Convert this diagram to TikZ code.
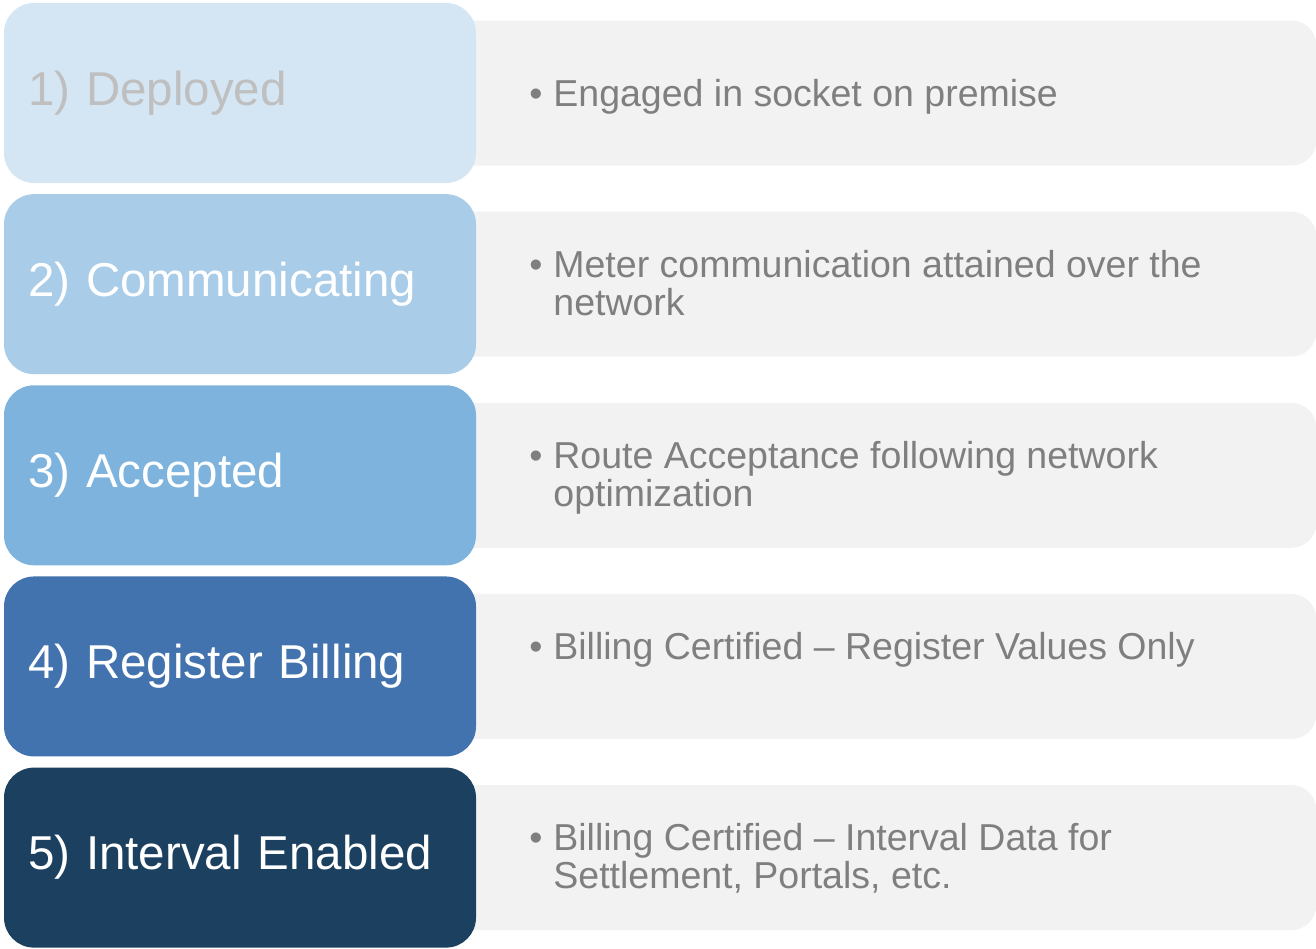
\documentclass[tikz,border=0pt]{standalone}
\usepackage{fontspec}
\setmainfont{Liberation Sans}
\usetikzlibrary{positioning, backgrounds}

\definecolor{stageA}{HTML}{D4E6F3}
\definecolor{stageB}{HTML}{A9CCE8}
\definecolor{stageC}{HTML}{7DB3DD}
\definecolor{stageD}{HTML}{4373AE}
\definecolor{stageE}{HTML}{1C405F}
\definecolor{stageAText}{HTML}{BFBFBF}
\definecolor{noteGray}{HTML}{F2F2F2}
\definecolor{noteText}{HTML}{7F7F7F}

\newcommand{\bulletitem}{\llap{\textbullet\hspace{11pt}}}

\begin{document}
\begin{tikzpicture}[
    x=1pt, y=-1pt, node distance=10.75pt,
    stage/.style={rectangle, rounded corners=30pt, minimum width=472pt, minimum height=180pt,
        text width=424pt, inner xsep=24pt, align=left, text=white,
        font=\fontsize{47.5}{54}\selectfont},
    note/.style={rectangle, rounded corners=25pt, fill=noteGray, minimum width=880pt, minimum height=145pt},
    notetext/.style={anchor=base west, align=left, inner sep=0pt, text=noteText,
        font=\fontsize{37.5}{38}\selectfont}
]

\useasboundingbox (0,0) rectangle (1316,948);

% stage boxes, top to bottom
\node[stage, fill=stageA, text=stageAText] (Deployed) at (240,93) {1) Deployed};
\node[stage, fill=stageB, below=of Deployed] (Communicating) {2) Communicating};
\node[stage, fill=stageC, below=of Communicating] (Accepted) {3) Accepted};
\node[stage, fill=stageD, below=of Accepted] (Register) {4) Register Billing};
\node[stage, fill=stageE, below=of Register] (Interval) {5) Interval Enabled};

% grey notes tucked behind the stages
\begin{scope}[on background layer]
\node[note, right=-40pt of Deployed] (DeployedNote) {};
\node[note, right=-40pt of Communicating] (CommunicatingNote) {};
\node[note, right=-40pt of Accepted] (AcceptedNote) {};
\node[note, right=-40pt of Register] (RegisterNote) {};
\node[note, right=-40pt of Interval] (IntervalNote) {};
\end{scope}

% base of a two-line note is its last line
\node[notetext] (DeployedText) at ([xshift=117pt, yshift=-86.5pt]DeployedNote.north west)
    {\bulletitem Engaged in socket on premise};
\node[notetext] (CommunicatingText) at ([xshift=117pt, yshift=-104pt]CommunicatingNote.north west)
    {\bulletitem Meter communication attained over the\\network};
\node[notetext] (AcceptedText) at ([xshift=117pt, yshift=-104pt]AcceptedNote.north west)
    {\bulletitem Route Acceptance following network\\optimization};
\node[notetext] (RegisterText) at ([xshift=117pt, yshift=-66pt]RegisterNote.north west)
    {\bulletitem Billing Certified -- Register Values Only};
\node[notetext] (IntervalText) at ([xshift=117pt, yshift=-104pt]IntervalNote.north west)
    {\bulletitem Billing Certified -- Interval Data for\\Settlement, Portals, etc.};

\end{tikzpicture}
\end{document}
